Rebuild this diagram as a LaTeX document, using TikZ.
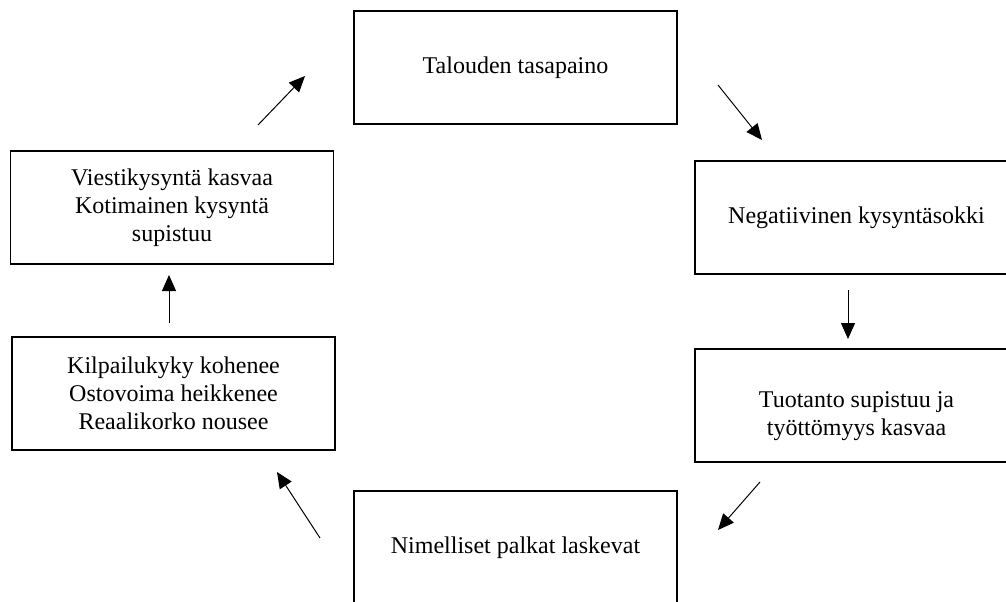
\documentclass[tikz,border=0pt]{standalone}
\usepackage{fontspec}
\setmainfont{Liberation Serif}
\usetikzlibrary{arrows.meta}
\tikzset{stage/.style={draw,rectangle,line width=0.8pt,
    minimum width=161.5pt,minimum height=56.5pt,inner sep=0pt,
    align=center,font=\fontsize{12}{14}\selectfont}}
\tikzset{stagetext/.style={align=center,inner sep=0pt,
    font=\fontsize{12}{14}\selectfont}}
\tikzset{flow/.style={line width=0.5pt,-{Triangle[length=8pt,width=7pt]}}}

\begin{document}
\begin{tikzpicture}[x=0.5pt,y=-0.5pt]
      \path[use as bounding box] (0,0) rectangle (1006,601);

      % Boxes {{{
      \node[stage] (talous) at (515.5,67.5) {Talouden tasapaino};
      \node[stage] (sokki) at (856.5,217.5) {Negatiivinen kysyntäsokki};
      \node[stage] (tuotanto) at (856.5,405.5) {};
      \node[stagetext] (tuotantoteksti) at ([yshift=-5.5pt]tuotanto.center)
        {Tuotanto supistuu ja\\työttömyys kasvaa};
      \node[stage] (palkat) at (515.5,547.5) {Nimelliset palkat laskevat};
      \node[stage] (kilpailu) at (173.5,393.5)
        {Kilpailukyky kohenee\\Ostovoima heikkenee\\Reaalikorko nousee};
      \node[stage] (viesti) at (172,207.5)
        {Viestikysyntä kasvaa\\Kotimainen kysyntä\\supistuu};
      % }}}

      % Arrows {{{
      \coordinate (S1) at (258,125);
      \coordinate (E1) at (305,76);
      \coordinate (S2) at (718,85);
      \coordinate (E2) at (762,140);
      \coordinate (S3) at (848,290);
      \coordinate (E3) at (848,339);
      \coordinate (S4) at (760,482);
      \coordinate (E4) at (718,530);
      \coordinate (S5) at (320,538);
      \coordinate (E5) at (277,472);
      \coordinate (S6) at (169,323);
      \coordinate (E6) at (169,275);

      \draw[flow] (S1) -- (E1);
      \draw[flow] (S2) -- (E2);
      \draw[flow] (S3) -- (E3);
      \draw[flow] (S4) -- (E4);
      \draw[flow] (S5) -- (E5);
      \draw[flow] (S6) -- (E6);
      % }}}

\end{tikzpicture}
\end{document}
